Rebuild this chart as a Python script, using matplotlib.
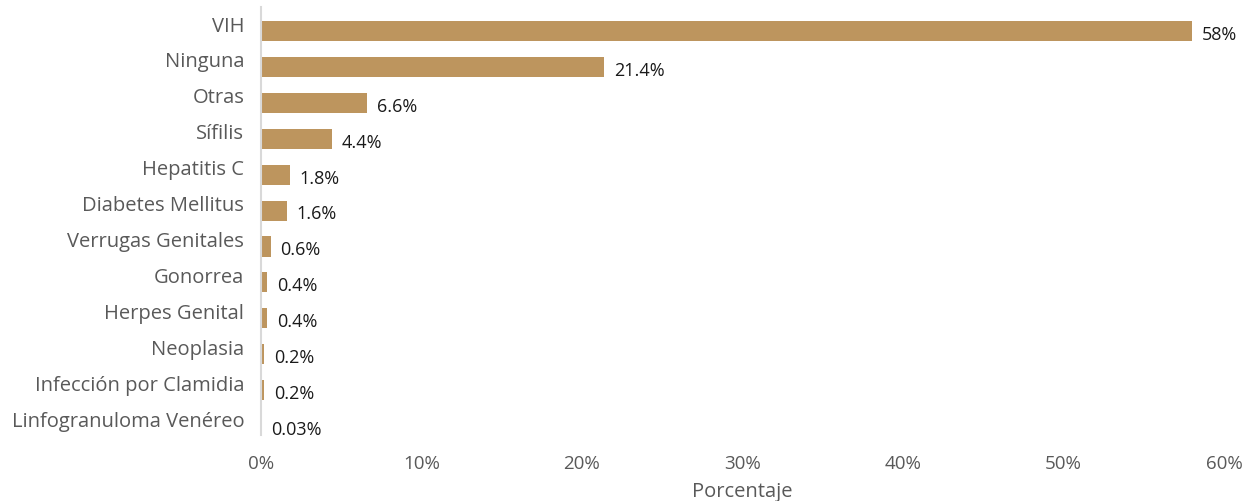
import matplotlib.pyplot as plt
import matplotlib.transforms as mtransforms
from matplotlib.ticker import FuncFormatter

# data (percent), top to bottom
categorias = ['VIH', 'Ninguna', 'Otras', 'Sífilis', 'Hepatitis C', 'Diabetes Mellitus',
              'Verrugas Genitales', 'Gonorrea', 'Herpes Genital', 'Neoplasia',
              'Infección por Clamidia', 'Linfogranuloma Venéreo']
porcentajes = [58, 21.4, 6.6, 4.4, 1.8, 1.6, 0.6, 0.4, 0.4, 0.2, 0.2, 0.03]
etiquetas = ['58%', '21.4%', '6.6%', '4.4%', '1.8%', '1.6%', '0.6%', '0.4%', '0.4%',
             '0.2%', '0.2%', '0.03%']

plt.rcParams['font.family'] = ['Open Sans', 'DejaVu Sans']

fig = plt.figure(figsize=(12.5, 5.02), dpi=100)
ax = fig.add_axes([0.2088, 0.1315, 0.7704, 0.8525])

y = list(range(len(categorias)))
ax.barh(y, porcentajes, height=0.56, color='#BD955E')
for yi, v, t in zip(y, porcentajes, etiquetas):
    ax.text(v + 0.6, yi + 0.08, t, va='center', ha='left', fontsize=13, color='#1a1a1a')

ax.set_ylim(11.25, -0.67)
ax.set_xlim(0, 60)
ax.set_xticks([0, 10, 20, 30, 40, 50, 60])
ax.xaxis.set_major_formatter(FuncFormatter(lambda v, p: f'{v:.0f}%'))
ax.set_yticks(y)
ax.set_yticklabels(categorias)
ax.tick_params(axis='both', length=0, colors='#595959')
ax.tick_params(axis='x', labelsize=13.5, pad=14)
ax.tick_params(axis='y', labelsize=14.5, pad=12)
# category labels sit a little above the bar centres
shift = mtransforms.ScaledTranslation(0, 8 / 100, fig.dpi_scale_trans)
for lbl in ax.get_yticklabels():
    lbl.set_transform(lbl.get_transform() + shift)
for s in ['top', 'right', 'bottom']:
    ax.spines[s].set_visible(False)
ax.spines['left'].set_color('#d9d9d9')
ax.spines['left'].set_linewidth(1.5)
ax.set_xlabel('Porcentaje', fontsize=14.5, color='#595959', labelpad=6)

fig.savefig('out.png', dpi=100)
